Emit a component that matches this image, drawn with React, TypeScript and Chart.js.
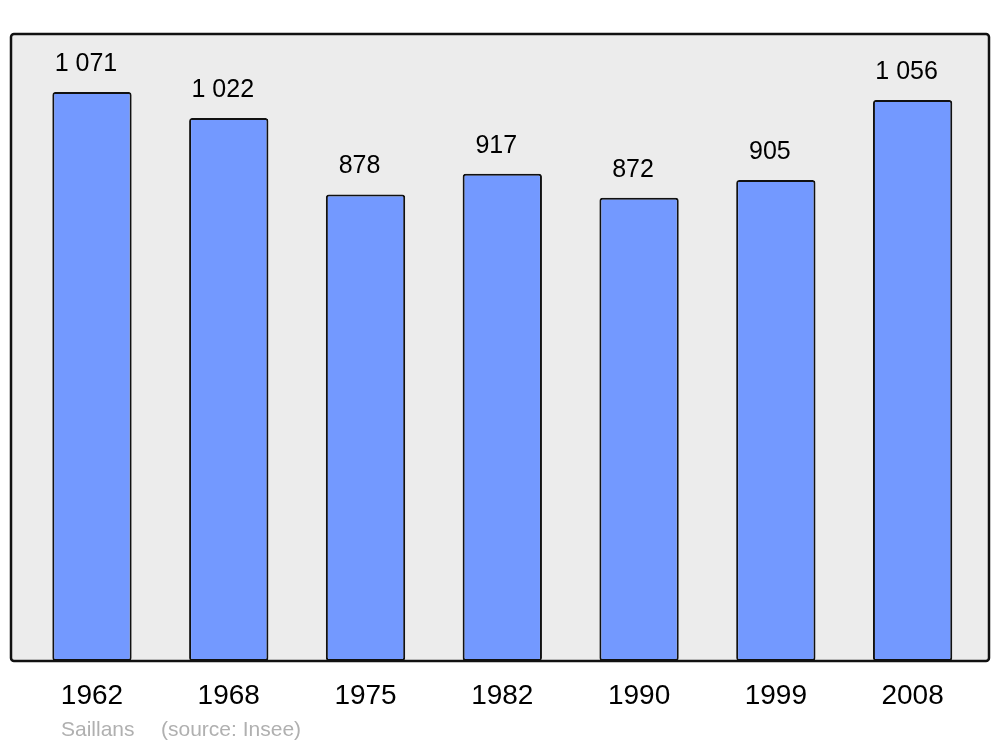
import React, { useEffect, useRef } from "react";
import { Chart, registerables } from "chart.js";

Chart.register(...registerables);

const years = ["1962", "1968", "1975", "1982", "1990", "1999", "2008"];
const population = [1071, 1022, 878, 917, 872, 905, 1056];
const valueLabels = ["1 071", "1 022", "878", "917", "872", "905", "1 056"];
const titleText = "Saillans";
const sourceText = "(source: Insee)";

const framePlugin = {
  id: "frame",
  beforeDraw(chart: any) {
    const ctx = chart.ctx;
    const { top, bottom } = chart.chartArea;
    ctx.save();
    ctx.beginPath();
    ctx.roundRect(11, top, 978, bottom - top, 3);
    ctx.fillStyle = "#ececec";
    ctx.fill();
    ctx.restore();
  },
  afterDatasetsDraw(chart: any) {
    const ctx = chart.ctx;
    const { top, bottom } = chart.chartArea;
    ctx.save();
    ctx.beginPath();
    ctx.roundRect(11, top, 978, bottom - top, 3);
    ctx.lineWidth = 2.5;
    ctx.strokeStyle = "#111111";
    ctx.stroke();
    // value labels
    const meta = chart.getDatasetMeta(0);
    ctx.font = "25px 'Liberation Sans', Arial, sans-serif";
    ctx.fillStyle = "#000000";
    ctx.textAlign = "center";
    ctx.textBaseline = "middle";
    meta.data.forEach((bar: any, i: number) => {
      ctx.fillText(valueLabels[i], bar.x - 6, bar.y - 28);
    });
    // caption
    ctx.font = "21px 'Liberation Sans', Arial, sans-serif";
    ctx.fillStyle = "#b0b0b0";
    ctx.textAlign = "left";
    ctx.fillText(titleText, 61, 730);
    ctx.fillText(sourceText, 161, 730);
    ctx.restore();
  },
};

export default function App() {
  const ref = useRef<HTMLCanvasElement>(null);
  useEffect(() => {
    if (!ref.current) return;
    const chart = new Chart(ref.current, {
      type: "bar",
      data: {
        labels: years,
        datasets: [
          {
            data: population,
            backgroundColor: "#7399ff",
            borderColor: "#111111",
            borderWidth: 2,
            borderRadius: 3,
            borderSkipped: false,
            barPercentage: 0.58,
            categoryPercentage: 1,
          },
        ],
      },
      options: {
        responsive: false,
        animation: false,
        layout: { padding: { left: 23.6, right: 19, top: 34, bottom: 16.4 } },
        plugins: {
          legend: { display: false },
          tooltip: { enabled: false },
          title: { display: false },
        },
        scales: {
          x: {
            grid: { display: false, drawTicks: false },
            border: { display: false },
            ticks: {
              padding: 18,
              color: "#000000",
              font: { size: 28, family: "'Liberation Sans', Arial, sans-serif" },
              maxRotation: 0,
            },
          },
          y: {
            display: false,
            min: 0,
            max: 1180,
          },
        },
      },
      plugins: [framePlugin],
    });
    return () => chart.destroy();
  }, []);
  return (
    <div style={{ position: "absolute", left: 0, top: 0, width: 1000, height: 747, background: "#ffffff" }}>
      <canvas ref={ref} width={1000} height={747} />
    </div>
  );
}
